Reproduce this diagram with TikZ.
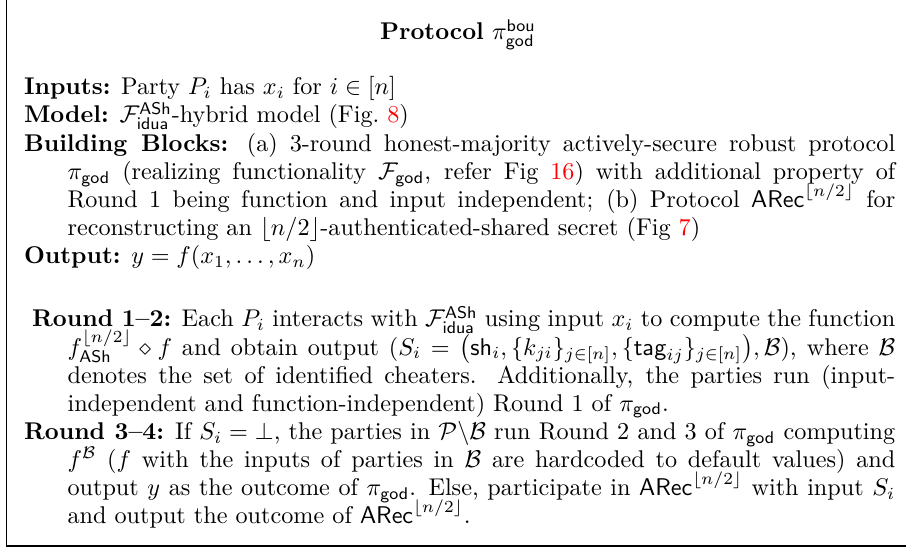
\documentclass[tikz,border=0pt]{standalone}
\usepackage{amsmath,amssymb}
\definecolor{linkred}{rgb}{1,0,0}
\newcommand{\figref}[1]{\textcolor{linkred}{#1}}
\newcommand{\ff}{\mathcal{F}}
\newcommand{\pigod}{\pi_{\mathsf{god}}}
\newcommand{\arec}{\mathsf{ARec}^{\lfloor n/2\rfloor}}
% justified paragraph with a hanging indent after the first line
\newcommand{\hangpar}[1]{\begin{minipage}[t]{360pt}\fontsize{10}{11.6}\selectfont
  \lineskiplimit=-6pt\hangindent=18pt\hangafter=1 #1\end{minipage}}

\begin{document}
\begin{tikzpicture}[x=0.4132pt, y=-0.4132pt,
  every node/.style={inner sep=0pt, outer sep=0pt},
  line/.style={anchor=base west},
  block/.style={anchor=base west},
  frame/.style={draw=black}]
\useasboundingbox (0,0) rectangle (906,548);

% frame: left side and bottom of the protocol box
\coordinate (ftop) at (6.2,0);
\coordinate (fcorner) at (6.2,546);
\coordinate (fright) at (906,546);
\draw[frame, line width=0.5pt] (ftop) -- (fcorner);
\draw[frame, line width=0.8pt] (fcorner) -- (fright);

% title
\node[anchor=base] (title) at (458,40) {\textbf{Protocol} $\pi_{\mathsf{god}}^{\mathsf{bou}}$};

% header
\node[line] (inputs) at (24,95) {\textbf{Inputs:} Party $P_i$ has $x_i$ for $i \in [n]$};
\node[line] (model) at (24,123) {\textbf{Model:} $\ff_{\mathsf{idua}}^{\mathsf{ASh}}$-hybrid model (Fig.~\figref{8})};
\node[block] (blocks) at (24,151.5) {\hangpar{%
\textbf{Building Blocks:} (a) 3-round honest-majority actively-secure robust protocol\linebreak
$\pigod$ (realizing functionality $\ff_{\mathsf{god}}$, refer Fig~\figref{16}) with additional property of\linebreak
Round 1 being function and input independent; (b) Protocol $\arec$ for\linebreak
reconstructing an $\lfloor n/2\rfloor$-authenticated-shared secret (Fig~\figref{7})}};
\node[line] (output) at (24,264) {\textbf{Output:} $y = f(x_1,\ldots,x_n)$};

% rounds
\node[block] (round12) at (24,327) {\hangpar{%
\hspace*{3.33pt}\textbf{Round 1--2:} Each $P_i$ interacts with $\ff_{\mathsf{idua}}^{\mathsf{ASh}}$ using input $x_i$ to compute the function\linebreak
$f_{\mathsf{ASh}}^{\lfloor n/2\rfloor}\diamond f$ and obtain output $(S_i = \big(\mathsf{sh}_i, \{k_{ji}\}_{j\in[n]}, \{\mathsf{tag}_{ij}\}_{j\in[n]}\big), \mathcal{B})$, where $\mathcal{B}$\linebreak
denotes the set of identified cheaters. Additionally, the parties run (input-\linebreak
independent and function-independent) Round 1 of $\pigod$.}};
\node[block] (round34) at (24,439.5) {\hangpar{%
\textbf{Round 3--4:} If $S_i = \bot$, the parties in $\mathcal{P}\backslash\mathcal{B}$ run Round 2 and 3 of $\pigod$ computing\linebreak
$f^{\mathcal{B}}$ ($f$ with the inputs of parties in $\mathcal{B}$ are hardcoded to default values) and\linebreak
output $y$ as the outcome of $\pigod$. Else, participate in $\arec$ with input $S_i$\linebreak
and output the outcome of $\arec$.}};
\end{tikzpicture}
\end{document}
